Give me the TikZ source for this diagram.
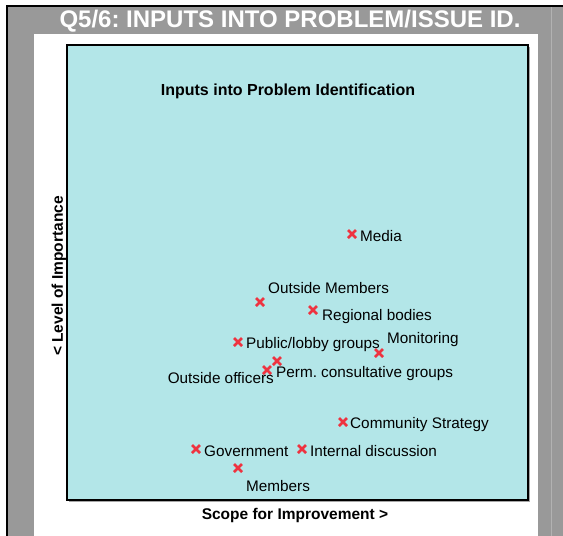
\documentclass[tikz,border=0pt]{standalone}
\usepackage{fontspec}
\setmainfont{Liberation Sans}
\usetikzlibrary{shapes.misc}
\frenchspacing
\definecolor{panelgray}{HTML}{999999}
\definecolor{plotcyan}{HTML}{B3E6E8}
\definecolor{markred}{HTML}{EE3340}
\newcommand{\lblfont}{\fontsize{15.3}{18}\selectfont}
\newcommand{\axfont}{\fontsize{15.5}{18}\selectfont\bfseries}

\begin{document}
\begin{tikzpicture}[x=1pt,y=-1pt,
  xmark/.style={cross out,draw=markred,line width=2.6pt,minimum size=8pt,inner sep=0pt,outer sep=0pt},
  lbl/.style={anchor=base west,inner sep=0pt,font=\lblfont}]
\useasboundingbox (0,0) rectangle (563,536);
% frame and panels
\fill[panelgray] (7,6) rectangle (563,536);
\draw[line width=2pt] (7,536) -- (7,6) -- (563,6);
\draw[white!25!panelgray,line width=1pt] (551,7) -- (551,536);
\fill[white] (34,34) rectangle (538,536);
\fill[black!35] (69,47) rectangle (530,502);
\filldraw[fill=plotcyan,draw=black,line width=1.5pt] (67,45) rectangle (528,500);
\node[anchor=base,text=white,inner sep=0pt,font=\fontsize{24}{28}\selectfont\bfseries] (title) at (290,27) {Q5/6: INPUTS INTO PROBLEM/ISSUE ID.};
\node[anchor=base,inner sep=0pt,font=\fontsize{16}{19}\selectfont\bfseries] (ptitle) at (288,95) {Inputs into Problem Identification};
\node[anchor=base,inner sep=0pt,font=\axfont] (xlab) at (295,519) {Scope for Improvement >};
\node[anchor=base,rotate=90,inner sep=0pt,font=\axfont] (ylab) at (63,276) {< Level of Importance};
% points
\node[xmark] (media) at (352,234) {};
\node[xmark] (outmem) at (260,302) {};
\node[xmark] (regional) at (313,310) {};
\node[xmark] (public) at (238,342) {};
\node[xmark] (monitor) at (379,353) {};
\node[xmark] (perm) at (277,361) {};
\node[xmark] (outoff) at (267,370) {};
\node[xmark] (community) at (343,422) {};
\node[xmark] (govt) at (196,449) {};
\node[xmark] (internal) at (302,449) {};
\node[xmark] (members) at (238,468) {};
% labels
\node[lbl] (lmedia) at (360,241) {Media};
\node[lbl] (loutmem) at (268,293) {Outside Members};
\node[lbl] (lregional) at (322,320) {Regional bodies};
\node[lbl] (lpublic) at (246,348) {Public/lobby groups};
\node[lbl] (lmonitor) at (387,343) {Monitoring};
\node[lbl] (lperm) at (276,377) {Perm. consultative groups};
\node[lbl,anchor=base east] (loutoff) at (274,383) {Outside officers};
\node[lbl] (lcommunity) at (350,428) {Community Strategy};
\node[lbl] (lgovt) at (204,456) {Government};
\node[lbl] (linternal) at (310,456) {Internal discussion};
\node[lbl] (lmembers) at (246,491) {Members};
\end{tikzpicture}
\end{document}
